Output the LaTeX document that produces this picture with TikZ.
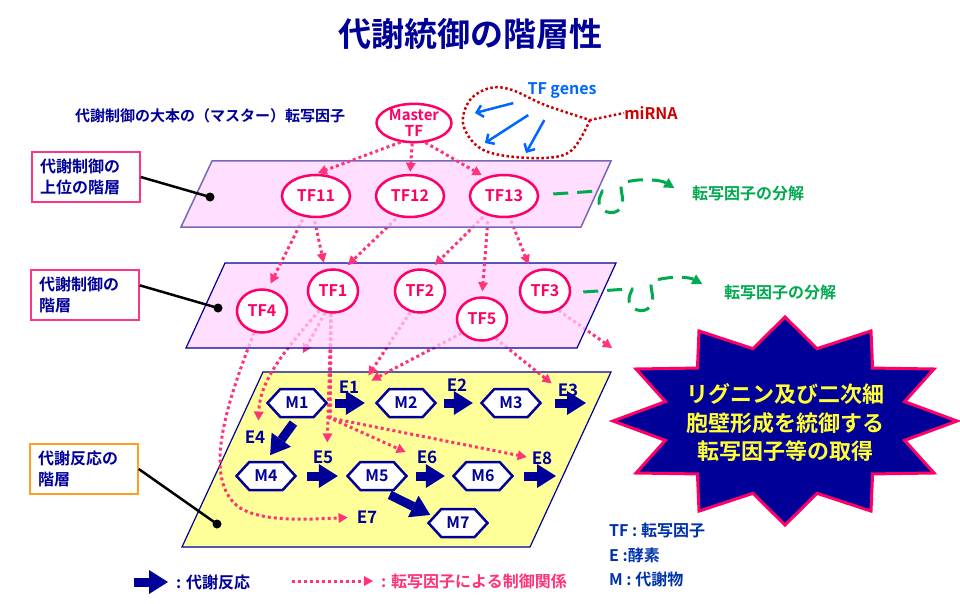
\documentclass[tikz,border=0pt]{standalone}
\usepackage{fontspec}
\setmainfont{Noto Sans CJK JP}[BoldFont={* Bold}]
\usetikzlibrary{shapes.geometric,shapes.symbols,arrows.meta}

\newcommand{\jpsize}[2]{\fontsize{#1}{#2}\selectfont}

\definecolor{navy}{HTML}{000099}
\definecolor{tfpink}{HTML}{FF0066}
\definecolor{ctrlpink}{HTML}{FF3377}
\definecolor{boxpink}{HTML}{FF3388}
\definecolor{layerpink}{HTML}{FFD2FF}
\definecolor{layerline}{HTML}{7766BB}
\definecolor{rxnyellow}{HTML}{FFFF99}
\definecolor{degrgreen}{HTML}{00AA50}
\definecolor{geneblue}{HTML}{0066FF}
\definecolor{mirred}{HTML}{CC0000}
\definecolor{boxorange}{HTML}{FFA020}
\definecolor{staryellow}{HTML}{FFFF33}
\definecolor{keyblue}{HTML}{0033AA}

\pgfdeclarelayer{yellowlay}
\pgfdeclarelayer{lowarr}
\pgfdeclarelayer{midlay}
\pgfdeclarelayer{uparr}
\pgfdeclarelayer{toplay}
\pgfsetlayers{yellowlay,lowarr,midlay,uparr,toplay,main}

\tikzset{
  tf/.style={ellipse, draw=tfpink, line width=2.5pt, fill=white, text=tfpink,
    font=\bfseries\jpsize{16}{17}, inner sep=0pt, align=center},
  tfup/.style={tf, minimum width=68pt, minimum height=42pt},
  tfmid/.style={tf, minimum width=50pt, minimum height=43pt},
  met/.style={signal, signal to=east and west, signal pointer angle=95,
    draw=navy, line width=2.5pt, fill=white, text=navy, font=\bfseries\jpsize{16}{16},
    minimum width=59pt, minimum height=28pt, inner sep=0pt},
  enz/.style={text=navy, font=\bfseries\jpsize{17}{17}, inner sep=0pt},
  ctrl/.style={draw=ctrlpink, line width=3pt, dash pattern=on 3pt off 3pt,
    -{Triangle[length=9pt,width=10pt,line width=0pt]}},
  rxn/.style={draw=navy, line width=9pt, -{Triangle[length=19pt,width=24pt,line width=0pt]}},
  degr/.style={draw=degrgreen, line width=3pt, dash pattern=on 15pt off 9pt,
    -{Triangle[length=10pt,width=11pt,line width=0pt]}},
  gene/.style={draw=geneblue, line width=2.5pt, -{Straight Barb[length=6pt,width=12pt]}},
  lvlbox/.style={line width=1.5pt, fill=white, text=navy, font=\bfseries\jpsize{16}{21},
    align=left, minimum width=108pt, minimum height=50pt, text width=92pt, inner sep=0pt},
  pin/.style={draw=black, line width=2.5pt},
  note/.style={font=\bfseries\jpsize{16}{16}, inner sep=0pt},
}

\begin{document}
\begin{tikzpicture}[x=1pt,y=-1pt]
\useasboundingbox (0,0) rectangle (960,604);

% titles
\node[text=navy, font=\bfseries\jpsize{33}{33}] (title) at (470,34) {代謝統御の階層性};
\node[note, text=navy, font=\bfseries\jpsize{15}{15}] (masterlabel) at (210,116) {代謝制御の大本の（マスター）転写因子};

% the three levels
\begin{pgfonlayer}{toplay}
\path[fill=layerpink, fill opacity=0.72, draw=layerline, line width=1.5pt]
  (212,161) -- (611,161) -- (581,227) -- (181,227) -- cycle;
\end{pgfonlayer}
\begin{pgfonlayer}{midlay}
\path[fill=layerpink, fill opacity=0.72, draw=navy, line width=1.2pt]
  (225,263) -- (616,263) -- (577,348) -- (186,348) -- cycle;
\end{pgfonlayer}
\begin{pgfonlayer}{yellowlay}
\fill[white] (0,0) rectangle (960,604);
\path[fill=rxnyellow, draw=navy, line width=1.2pt]
  (263,372) -- (611,372) -- (530,547) -- (182,547) -- cycle;
\end{pgfonlayer}

% level labels
\node[lvlbox, draw=boxpink] (uplabel) at (86,177) {代謝制御の\\上位の階層};
\node[lvlbox, draw=boxpink] (midlabel) at (85,295) {代謝制御の\\階層};
\node[lvlbox, draw=boxorange] (rxnlabel) at (84,469) {代謝反応の\\階層};
\coordinate (updot) at (210,197);
\coordinate (middot) at (218,308);
\coordinate (rxndot) at (217,524);
\draw[pin] (uplabel.east) -- (updot);
\draw[pin] (midlabel.10) -- (middot);
\draw[pin] (rxnlabel.east) -- (rxndot);
\fill (updot) circle (4.5);
\fill (middot) circle (4.5);
\fill (rxndot) circle (4.5);

% master TF, TF genes, miRNA
\node[tf, minimum width=75pt, minimum height=37pt, font=\bfseries\jpsize{15}{16}] (master) at (414,123) {Master\\TF};
\node[note, text=geneblue] (tfgenes) at (562,91) {TF genes};
\node[note, text=mirred] (mirna) at (651,113) {miRNA};
\draw[mirred, line width=2.5pt, dash pattern=on 2.5pt off 2.5pt]
  plot[smooth, tension=0.6] coordinates {(590,120) (572,150) (545,158) (500,155) (476,145) (463,123) (470,100) (490,88) (512,90) (545,105) (590,120)}
  -- (mirna.west);
\coordinate (geneone) at (475,113);
\coordinate (genetwo) at (485,143);
\coordinate (genethree) at (526,153);
\draw[gene] ([xshift=-14pt,yshift=-4pt]tfgenes.south west) -- (geneone);
\draw[gene] ([xshift=1pt,yshift=-16pt]tfgenes.south west) -- (genetwo);
\draw[gene] ([xshift=17pt,yshift=-21pt]tfgenes.south west) -- (genethree);

% upper level TFs
\node[tfup] (TF11) at (316,196) {TF11};
\node[tfup] (TF12) at (410,196) {TF12};
\node[tfup] (TF13) at (504,196) {TF13};

% middle level TFs
\node[tfmid] (TF1) at (333,291) {TF1};
\node[tfmid] (TF2) at (420,291) {TF2};
\node[tfmid] (TF3) at (545,291) {TF3};
\node[tfmid] (TF4) at (262,311) {TF4};
\node[tfmid] (TF5) at (482,319) {TF5};

% metabolites and enzymes
\node[met] (M1) at (297,403) {M1};
\node[met] (M2) at (406,403) {M2};
\node[met] (M3) at (511,403) {M3};
\node[met] (M4) at (266,476) {M4};
\node[met] (M5) at (377,476) {M5};
\node[met] (M6) at (483,476) {M6};
\node[met] (M7) at (458,523) {M7};
\node[enz] (E1) at (349,387) {E1};
\node[enz] (E2) at (457,385) {E2};
\node[enz] (E3) at (568,390) {E3};
\node[enz] (E4) at (255,437) {E4};
\node[enz] (E5) at (323,457) {E5};
\node[enz] (E6) at (427,457) {E6};
\node[enz] (E7) at (367,517) {E7};
\node[enz] (E8) at (542,458) {E8};
\coordinate (mthreeout) at (586,403);
\coordinate (msixout) at (556,476);

\draw[rxn, shorten <=7pt, shorten >=10pt] (M1.east) -- (M2.west);
\draw[rxn, shorten <=7pt, shorten >=7pt] (M2.east) -- (M3.west);
\draw[rxn, shorten <=13pt] (M3.east) -- (mthreeout);
\draw[rxn, shorten <=6pt, shorten >=7pt] (M1.south) -- (M4.north);
\draw[rxn, shorten <=10pt, shorten >=8pt] (M4.east) -- (M5.west);
\draw[rxn, shorten <=8pt, shorten >=7pt] (M5.east) -- (M6.west);
\draw[rxn, shorten <=10pt] (M6.east) -- (msixout);
\draw[rxn, shorten <=8pt, shorten >=3pt] (M5.-70) -- (M7.165);

% master TF -> upper level
\draw[ctrl, shorten >=2pt] (master.235) -- (TF11.north);
\draw[ctrl, shorten >=2pt] (master.265) -- (TF12.north);
\draw[ctrl, shorten >=4pt] (master.300) -- (TF13.135);

% upper -> middle level
\begin{pgfonlayer}{uparr}
\draw[ctrl, shorten <=3pt, shorten >=6pt] (TF11.240) -- (TF4.75);
\draw[ctrl, shorten <=3pt, shorten >=7pt] (TF11.265) -- (TF1.110);
\draw[ctrl, shorten <=3pt, shorten >=7pt] (TF12.240) -- (TF1.65);
\draw[ctrl, shorten <=3pt, shorten >=7pt] (TF13.225) -- (TF2.65);
\draw[ctrl, shorten <=3pt, shorten >=5pt] ([xshift=-16pt]TF13.south) -- (TF5.north);
\draw[ctrl, shorten <=3pt, shorten >=8pt] (TF13.285) -- (TF3.125);
\end{pgfonlayer}

% middle level -> reactions
\coordinate (tfonestub) at (303,353);
\coordinate (tfonebr) at (330,418);
\coordinate (tfthreeout) at (612,348);
\begin{pgfonlayer}{lowarr}
\draw[ctrl, shorten >=9pt] (TF4.250) .. controls (228,400) and (200,480) .. (240,508)
  .. controls (262,521) and (300,520) .. (E7.west);
\draw[ctrl, shorten >=10pt] (TF1.235) .. controls (285,350) and (260,380) .. ([xshift=3pt]E4.north);
\draw[ctrl] (TF1.250) -- (tfonestub);
\draw[ctrl, shorten >=8pt] (TF1.265) -- ([xshift=4pt]E5.north);
\draw[ctrl, shorten >=12pt] (TF1.265) -- (tfonebr) -- (E6.west);
\draw[ctrl, shorten >=5pt] (TF1.265) -- (tfonebr) -- (E8.west);
\draw[ctrl] (TF2.245) -- ([xshift=9pt,yshift=5pt]E1.north east);
\draw[ctrl] (TF5.215) -- ([xshift=12pt]E1.north east);
\draw[ctrl] (TF5.305) -- ([xshift=-6pt]E3.north west);
\draw[ctrl] (TF3.305) -- (tfthreeout);
\end{pgfonlayer}

% degradation of TFs
\node[note, text=degrgreen] (degrone) at (748,193) {転写因子の分解};
\node[note, text=degrgreen] (degrtwo) at (780,292) {転写因子の分解};
\begin{scope}[shift={(TF13.east)}]
\draw[degr] (14,-2) -- (59,-5) .. controls (68,-7) and (58,-1) .. (60,8)
  .. controls (62,18) and (80,21) .. (83,8) .. controls (85,-3) and (77,-11) .. (87,-14)
  .. controls (102,-18) and (122,-16) .. (135,-8);
\end{scope}
\begin{scope}[shift={(TF3.east)}]
\draw[degr] (12,1) -- (57,-2) .. controls (66,-4) and (56,2) .. (58,11)
  .. controls (60,21) and (78,24) .. (81,11) .. controls (83,0) and (75,-8) .. (85,-11)
  .. controls (100,-15) and (118,-14) .. (131,-7);
\end{scope}

% goal star
\path[draw=tfpink, line width=3pt, fill=navy]
  plot[samples at={0,...,23}, variable=\i]
  ({785+172*(1-0.28*mod(\i,2))*cos(90+15*\i)}, {421+104*(1-0.28*mod(\i,2))*sin(90+15*\i)}) -- cycle;
\node[text=staryellow, font=\bfseries\jpsize{22}{28.5}, align=center] (goal) at (785,423)
  {リグニン及び二次細\\胞壁形成を統御する\\転写因子等の取得};

% keys
\coordinate (rxnkeyA) at (134,582);
\coordinate (rxnkeyB) at (168,582);
\draw[rxn] (rxnkeyA) -- (rxnkeyB);
\node[note, text=navy, anchor=west] (rxnkey) at (176,582) {: 代謝反応};
\coordinate (ctrlkeyA) at (292,581);
\coordinate (ctrlkeyB) at (373,581);
\draw[ctrl] (ctrlkeyA) -- (ctrlkeyB);
\node[note, text=ctrlpink, anchor=west] (ctrlkey) at (381,581) {: 転写因子による制御関係};
\node[note, text=keyblue, anchor=west] (tfkey) at (609,530) {TF : 転写因子};
\node[note, text=keyblue, anchor=west] (ekey) at (609,555) {E :酵素};
\node[note, text=keyblue, anchor=west] (mkey) at (609,579) {M : 代謝物};
\end{tikzpicture}
\end{document}
